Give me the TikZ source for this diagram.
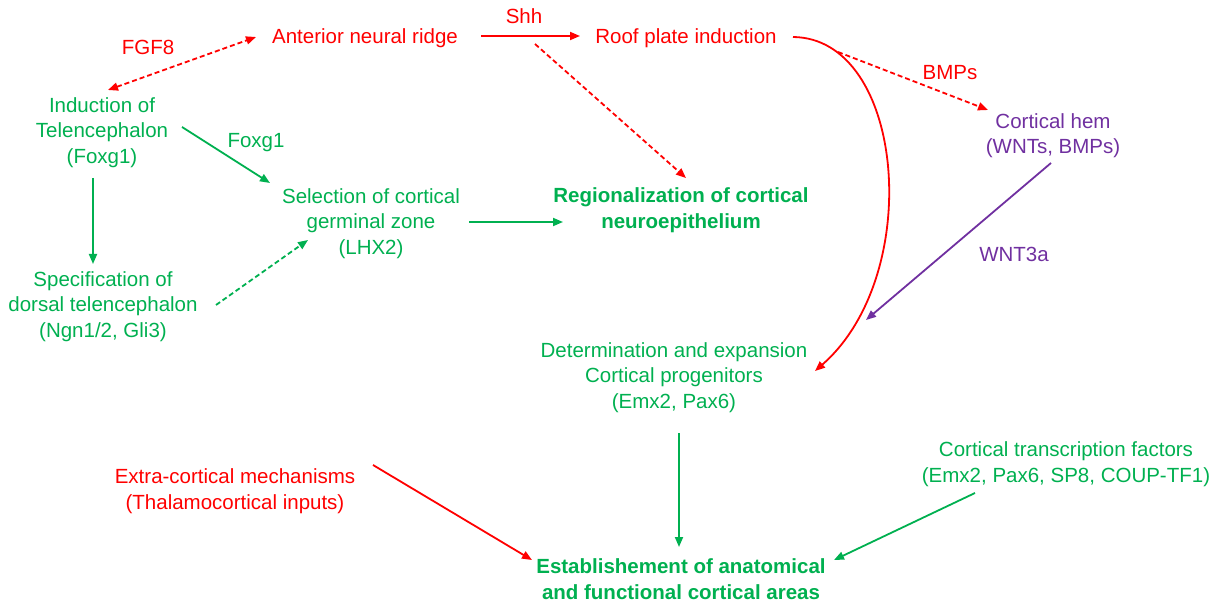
\documentclass[tikz,border=0pt]{standalone}
\usepackage{fontspec}
\setmainfont{Liberation Sans}
\usetikzlibrary{arrows.meta}
\definecolor{cred}{RGB}{255,0,0}
\definecolor{cgreen}{RGB}{0,176,80}
\definecolor{cpurple}{RGB}{112,48,160}
\tikzset{
  lbl/.style={inner sep=0pt, align=center, font=\fontsize{20.5}{25.5}\selectfont},
  bld/.style={lbl, font=\fontsize{20.5}{25.5}\selectfont\bfseries},
  conn/.style={line width=1.8pt, -{Triangle[length=10pt,width=8pt]}},
  dsh/.style={dash pattern=on 5pt off 3pt},
}
\begin{document}
\begin{tikzpicture}[x=1pt,y=-1pt]
\useasboundingbox (0,0) rectangle (1227,604);
% nodes
\node[lbl, text=cred] (fgf) at (148,47) {FGF8};
\node[lbl, text=cred] (anr) at (365,38.5) {Anterior neural ridge};
\node[lbl, text=cred] (shh) at (524,16.5) {Shh};
\node[lbl, text=cred] (roof) at (686,38.5) {Roof plate induction};
\node[lbl, text=cred] (bmps) at (950,73) {BMPs};
\node[lbl, text=cgreen] (ind) at (102,132.5) {Induction of\\Telencephalon\\(Foxg1)};
\node[lbl, text=cgreen] (foxg) at (256,143) {Foxg1};
\node[lbl, text=cgreen] (sel) at (371,223.5) {Selection of cortical\\germinal zone\\(LHX2)};
\node[bld, text=cgreen] (reg) at (681,210) {Regionalization of cortical\\neuroepithelium};
\node[lbl, text=cpurple] (hem) at (1053,135.5) {Cortical hem\\(WNTs, BMPs)};
\node[lbl, text=cpurple] (wnt) at (1014,254) {WNT3a};
\node[lbl, text=cgreen] (spec) at (103,306.5) {Specification of\\dorsal telencephalon\\(Ngn1/2, Gli3)};
\node[lbl, text=cgreen] (det) at (674,377.5) {Determination and expansion\\Cortical progenitors\\(Emx2, Pax6)};
\node[lbl, text=cgreen] (ctf) at (1066,464) {Cortical transcription factors\\(Emx2, Pax6, SP8, COUP-TF1)};
\node[lbl, text=cred] (extra) at (235,491) {Extra-cortical mechanisms\\(Thalamocortical inputs)};
\node[bld, text=cgreen] (est) at (681,579) {Establishement of anatomical\\and functional cortical areas};
% connector end points
\coordinate (fgfA) at (108,90);
\coordinate (fgfB) at (256,37);
\coordinate (shhA) at (481,36);
\coordinate (shhB) at (580,36);
\coordinate (anrA) at (535,44);
\coordinate (regA) at (686,178);
\coordinate (roofA) at (793,37);
\coordinate (detA) at (815,371);
\coordinate (bmpA) at (838,52);
\coordinate (hemA) at (988,110);
\coordinate (hemB) at (1051,163);
\coordinate (detB) at (866,320);
\coordinate (indA) at (182,127);
\coordinate (selA) at (270,183);
\coordinate (indB) at (93,178);
\coordinate (specA) at (93,264);
\coordinate (specB) at (216,305);
\coordinate (selB) at (308,240);
\coordinate (selC) at (469,222);
\coordinate (regB) at (563,222);
\coordinate (detC) at (679,433);
\coordinate (estA) at (679,547);
\coordinate (extraA) at (373,465);
\coordinate (estB) at (532,560);
\coordinate (ctfA) at (975,493);
\coordinate (estC) at (834,560);
% connectors
\draw[conn, cred, dsh, {Triangle[length=10pt,width=8pt]}-{Triangle[length=10pt,width=8pt]}] (fgfA) -- (fgfB);
\draw[conn, cred] (shhA) -- (shhB);
\draw[conn, cred, dsh] (anrA) -- (regA);
\draw[conn, cred] (roofA) .. controls (905,38) and (925,275) .. (detA);
\draw[conn, cred, dsh] (bmpA) -- (hemA);
\draw[conn, cpurple] (hemB) -- (detB);
\draw[conn, cgreen] (indA) -- (selA);
\draw[conn, cgreen] (indB) -- (specA);
\draw[conn, cgreen, dsh] (specB) -- (selB);
\draw[conn, cgreen] (selC) -- (regB);
\draw[conn, cgreen] (detC) -- (estA);
\draw[conn, cred] (extraA) -- (estB);
\draw[conn, cgreen] (ctfA) -- (estC);
\end{tikzpicture}
\end{document}
